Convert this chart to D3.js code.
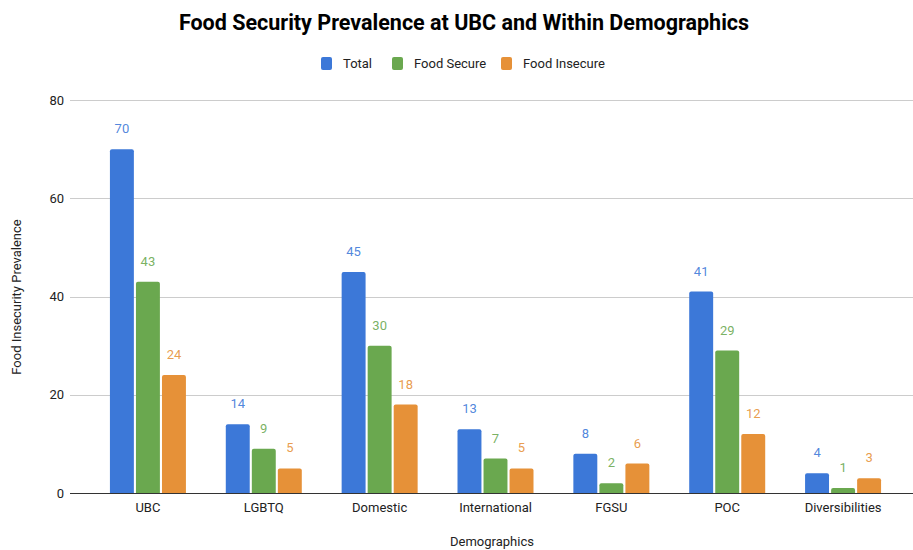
<!DOCTYPE html>
<html>
<head>
<meta charset="utf-8">
<script src="https://cdn.jsdelivr.net/npm/d3@7"></script>
<style>
  body { margin: 0; background: #fff; }
  text { font-family: Roboto, "Noto Sans", sans-serif; }
</style>
</head>
<body>
<div id="chart"></div>
<script>
// chart data
const categories = ["UBC", "LGBTQ", "Domestic", "International", "FGSU", "POC", "Diversibilities"];
const seriesNames = ["Total", "Food Secure", "Food Insecure"];
const totalValues = [70, 14, 45, 13, 8, 41, 4];
const secureValues = [43, 9, 30, 7, 2, 29, 1];
const insecureValues = [24, 5, 18, 5, 6, 12, 3];
const yTicks = [0, 20, 40, 60, 80];

const colors = ["#3c78d8", "#6aa84f", "#e69138"];
const seriesValues = [totalValues, secureValues, insecureValues];

var width = 913,
    height = 550;

var svg = d3.select("#chart")
  .append("svg")
    .attr("width", width)
    .attr("height", height);

// scales
var x = d3.scaleBand()
  .domain(categories)
  .range([90, 901]);

var inner = d3.scaleBand()
  .domain(seriesNames)
  .range([x.bandwidth() / 2 - 38, x.bandwidth() / 2 + 38])
  .paddingInner(0.08);

var y = d3.scaleLinear()
  .domain([0, 80])
  .range([493, 100]);

// title
svg.append("text")
  .attr("x", 464)
  .attr("y", 30)
  .attr("text-anchor", "middle")
  .attr("font-size", "21.5px")
  .attr("font-weight", "bold")
  .attr("fill", "#000")
  .text("Food Security Prevalence at UBC and Within Demographics");

// legend
var legendX = [321, 392, 501];
var legend = svg.append("g");
seriesNames.forEach(function(name, i) {
  legend.append("rect")
    .attr("x", legendX[i])
    .attr("y", 57)
    .attr("width", 11)
    .attr("height", 13)
    .attr("rx", 2)
    .attr("fill", colors[i]);
  legend.append("text")
    .attr("x", legendX[i] + 22)
    .attr("y", 68)
    .attr("font-size", "13px")
    .attr("fill", "#222")
    .text(name);
});

// gridlines
svg.append("g")
  .selectAll("line")
  .data(yTicks.filter(function(d) { return d > 0; }))
  .enter()
  .append("line")
    .attr("x1", 70)
    .attr("x2", 913)
    .attr("y1", function(d) { return Math.round(y(d)) + 0.5; })
    .attr("y2", function(d) { return Math.round(y(d)) + 0.5; })
    .attr("stroke", "#ccc")
    .attr("stroke-width", 1);

// y axis labels
var yAxis = d3.axisLeft(y).tickValues(yTicks).tickSize(0).tickPadding(6);
svg.append("g")
  .attr("transform", "translate(70,0)")
  .call(yAxis)
  .call(function(g) { g.select(".domain").remove(); })
  .selectAll("text")
    .attr("font-size", "13px")
    .attr("font-family", "Roboto, sans-serif")
    .attr("fill", "#222");

// bars with rounded tops
function barPath(x0, y0, w, h) {
  var r = Math.min(2, h);
  return "M" + x0 + "," + (y0 + h) +
    "V" + (y0 + r) +
    "Q" + x0 + "," + y0 + " " + (x0 + r) + "," + y0 +
    "H" + (x0 + w - r) +
    "Q" + (x0 + w) + "," + y0 + " " + (x0 + w) + "," + (y0 + r) +
    "V" + (y0 + h) + "Z";
}

var groups = svg.append("g")
  .selectAll("g")
  .data(categories)
  .enter()
  .append("g")
    .attr("transform", function(d) { return "translate(" + x(d) + ",0)"; });

groups.each(function(cat, ci) {
  var g = d3.select(this);
  seriesNames.forEach(function(s, si) {
    var v = seriesValues[si][ci];
    var bx = inner(s);
    var bw = inner.bandwidth();
    g.append("path")
      .attr("d", barPath(bx, y(v), bw, y(0) - y(v)))
      .attr("fill", colors[si]);
    g.append("text")
      .attr("x", bx + bw / 2)
      .attr("y", y(v) - 16)
      .attr("text-anchor", "middle")
      .attr("font-size", "13px")
      .attr("fill", colors[si])
      .attr("fill-opacity", 0.9)
      .text(v);
  });
});

// baseline
svg.append("line")
  .attr("x1", 70)
  .attr("x2", 913)
  .attr("y1", y(0) + 0.5)
  .attr("y2", y(0) + 0.5)
  .attr("stroke", "#333")
  .attr("stroke-width", 1);

// x axis labels
var xAxis = d3.axisBottom(x).tickSize(0).tickPadding(10);
svg.append("g")
  .attr("transform", "translate(0," + y(0) + ")")
  .call(xAxis)
  .call(function(g) { g.select(".domain").remove(); })
  .selectAll("text")
    .attr("font-size", "13px")
    .attr("font-family", "Roboto, sans-serif")
    .attr("fill", "#222");

// axis titles
svg.append("text")
  .attr("x", 492)
  .attr("y", 546)
  .attr("text-anchor", "middle")
  .attr("font-size", "13px")
  .attr("fill", "#222")
  .text("Demographics");

svg.append("text")
  .attr("transform", "translate(21,297) rotate(-90)")
  .attr("text-anchor", "middle")
  .attr("font-size", "13px")
  .attr("fill", "#222")
  .text("Food Insecurity Prevalence");
</script>
</body>
</html>
